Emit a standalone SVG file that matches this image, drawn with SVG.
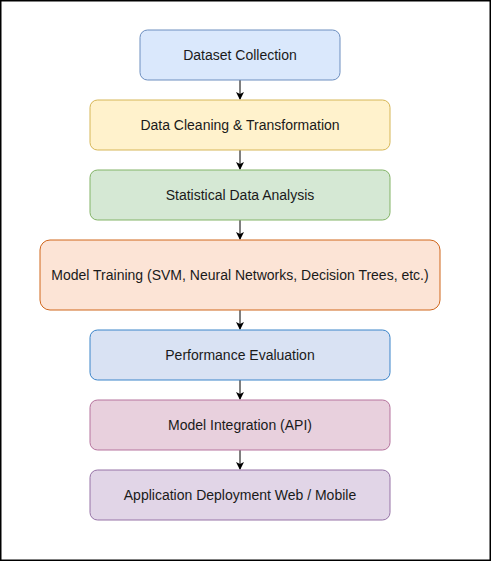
<svg xmlns="http://www.w3.org/2000/svg" width="491" height="561" viewBox="0 0 491 561">
<style>
text{font-family:"Liberation Sans",Arial,sans-serif;font-size:14px;fill:#1a1a1a;text-anchor:middle;dominant-baseline:central}
.c{stroke:#000;stroke-width:1;fill:none}
</style>
<defs>
<marker id="ah" markerWidth="8" markerHeight="8" refX="7" refY="4" orient="auto" markerUnits="userSpaceOnUse">
<path d="M0,0 L8,4 L0,8 L2,4 Z" fill="#000"/>
</marker>
</defs>
<rect x="0.75" y="0.75" width="489.5" height="559.5" fill="#fff" stroke="#000" stroke-width="1.5"/>
<g id="connectors">
<path class="c" d="M240,80 V99" marker-end="url(#ah)"/>
<path class="c" d="M240,150 V169" marker-end="url(#ah)"/>
<path class="c" d="M240,220 V239" marker-end="url(#ah)"/>
<path class="c" d="M240,310 V329" marker-end="url(#ah)"/>
<path class="c" d="M240,380 V399" marker-end="url(#ah)"/>
<path class="c" d="M240,450 V469" marker-end="url(#ah)"/>
</g>
<g id="n1"><rect x="140" y="30" width="200" height="50" rx="7.5" fill="#dae8fc" stroke="#6c8ebf"/><text x="240" y="55">Dataset Collection</text></g>
<g id="n2"><rect x="90" y="100" width="300" height="50" rx="7.5" fill="#fff2cc" stroke="#d6b656"/><text x="240" y="125">Data Cleaning &amp; Transformation</text></g>
<g id="n3"><rect x="90" y="170" width="300" height="50" rx="7.5" fill="#d5e8d4" stroke="#82b366"/><text x="240" y="195">Statistical Data Analysis</text></g>
<g id="n4"><rect x="40" y="240" width="400" height="70" rx="10" fill="#fce4d6" stroke="#d0661b"/><text x="240" y="275">Model Training (SVM, Neural Networks, Decision Trees, etc.)</text></g>
<g id="n5"><rect x="90" y="330" width="300" height="50" rx="7.5" fill="#d9e2f3" stroke="#3b84c9"/><text x="240" y="355">Performance Evaluation</text></g>
<g id="n6"><rect x="90" y="400" width="300" height="50" rx="7.5" fill="#e8d0dd" stroke="#b5739d"/><text x="240" y="425">Model Integration (API)</text></g>
<g id="n7"><rect x="90" y="470" width="300" height="50" rx="7.5" fill="#e1d5e7" stroke="#9673a6"/><text x="240" y="495">Application Deployment Web / Mobile</text></g>
</svg>
